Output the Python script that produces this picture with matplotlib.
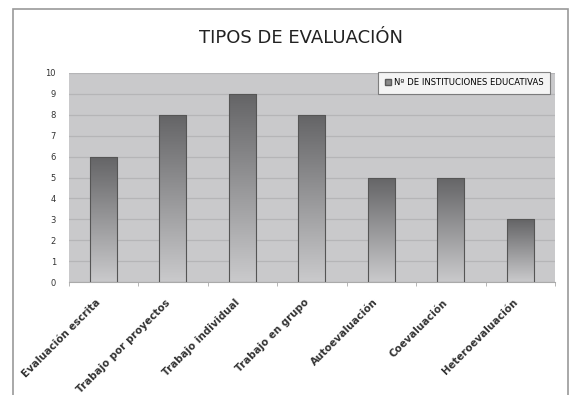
import numpy as np
import matplotlib
matplotlib.use("Agg")
import matplotlib.pyplot as plt
from matplotlib.patches import Rectangle, Patch
from matplotlib.colors import LinearSegmentedColormap

categories = ["Evaluación escrita", "Trabajo por proyectos", "Trabajo individual",
              "Trabajo en grupo", "Autoevaluación", "Coevaluación", "Heteroevaluación"]
values = [6, 8, 9, 8, 5, 5, 3]
series_name = "Nº DE INSTITUCIONES EDUCATIVAS"
title = "TIPOS DE EVALUACIÓN"
yticks = list(range(0, 11))

W, H = 571, 395
fig = plt.figure(figsize=(W / 100, H / 100), dpi=100)
fig.patch.set_facecolor("white")

# outer chart frame
fig.patches.append(Rectangle((13 / W, -0.05), (568 - 13) / W, 1 - 9 / H + 0.05,
                             transform=fig.transFigure, fill=False,
                             edgecolor="#9a9a9a", linewidth=1.2))

ax = fig.add_axes([68.5 / W, 1 - 282 / H, (555 - 68.5) / W, (282 - 73) / H])
ax.set_facecolor("#c9c9cb")

x = np.arange(len(categories))
bars = ax.bar(x, values, width=0.39, color="none", edgecolor="#555555",
              linewidth=0.8, zorder=3, label=series_name)

# vertical gradient: dark at the top, light at the base
cmap = LinearSegmentedColormap.from_list("g", ["#646466", "#cacacc"])
grad = np.linspace(0, 1, 256).reshape(-1, 1)
for b in bars:
    x0, w, h = b.get_x(), b.get_width(), b.get_height()
    im = ax.imshow(grad, cmap=cmap, aspect="auto", extent=(x0, x0 + w, 0, h),
                   origin="upper", zorder=2)
    im.set_clip_path(b)

ax.set_xlim(-0.5, len(categories) - 0.5)
ax.set_ylim(0, 10)
ax.set_yticks(yticks)
ax.set_yticklabels([str(t) for t in yticks], fontsize=6, color="#333333")
ax.yaxis.grid(True, color="#b5b5b7", linewidth=0.9, zorder=0)
ax.set_axisbelow(True)
ax.tick_params(axis="y", length=0, pad=9)

# category names, slanted and set slightly left of each bar centre
ax.set_xticks(x)
ax.set_xticklabels([])
for xi, name in zip(x, categories):
    ax.annotate(name, xy=(xi, 0), xycoords=("data", "axes fraction"),
                xytext=(-5.8, -11), textcoords="offset points",
                rotation=45, ha="right", va="top", rotation_mode="anchor",
                fontsize=7.4, fontweight="bold", color="#333333",
                annotation_clip=False)
ax.set_xticks(np.arange(-0.5, len(categories)), minor=True)
ax.tick_params(axis="x", which="major", length=0)
ax.tick_params(axis="x", which="minor", length=3, color="#aaaaaa")

for s in ["top", "right", "left"]:
    ax.spines[s].set_visible(False)
ax.spines["bottom"].set_color("#aaaaaa")

leg = ax.legend(handles=[Patch(facecolor="#8a8a8a", edgecolor="#5a5a5a", label=series_name)],
                loc="upper right", bbox_to_anchor=(0.99, 1.005), fontsize=6.1,
                frameon=True, fancybox=False, handlelength=0.7, handleheight=0.7,
                handletextpad=0.4, borderpad=0.75, borderaxespad=0.0)
leg.get_frame().set_edgecolor("#666666")
leg.get_frame().set_linewidth(0.8)
leg.get_frame().set_facecolor("white")

fig.text(0.5 * (197 + 405) / W, 1 - 38 / H, title, ha="center", va="center",
         fontsize=13, color="#222222")

fig.savefig("out.png", dpi=100)
